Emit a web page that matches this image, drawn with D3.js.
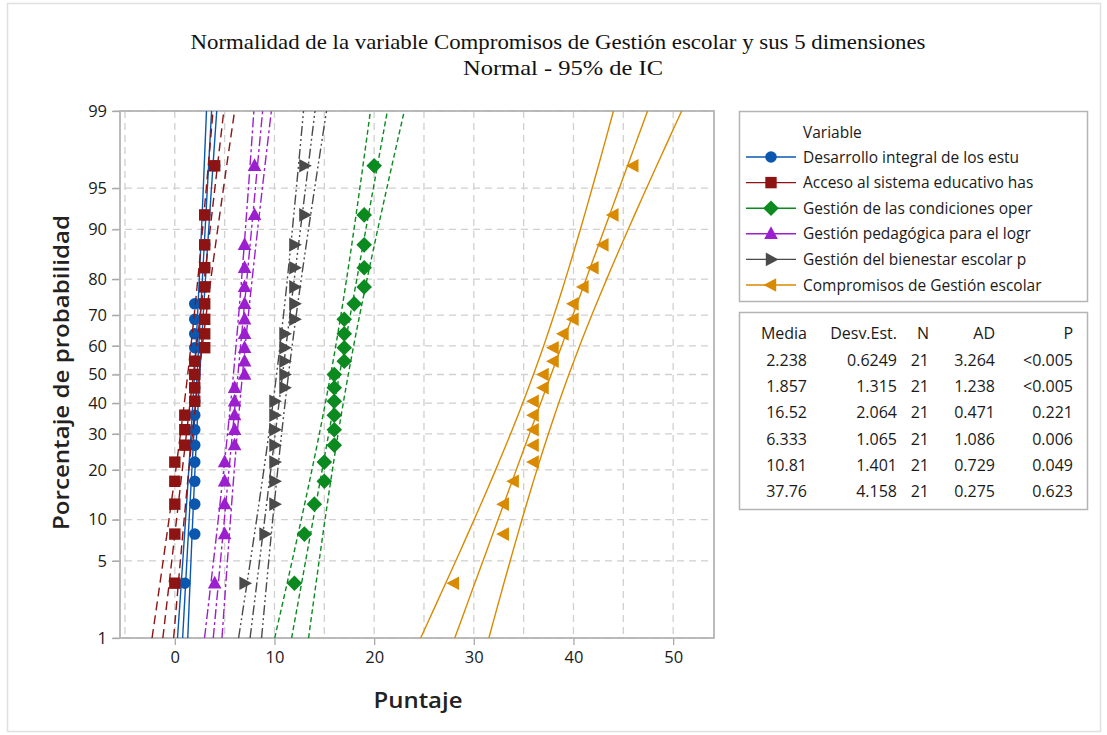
<!DOCTYPE html>
<html>
<head>
<meta charset="utf-8">
<script src="https://cdn.jsdelivr.net/npm/d3@7"></script>
<style>
  body { margin: 0; background: #fff; }
  svg { display: block; }
</style>
</head>
<body>
<svg id="chart" width="1107" height="735"></svg>
<script>
// ---------- DATA ----------
const seriesNames = [
  "Desarrollo integral de los estu",
  "Acceso al sistema educativo has",
  "Gestión de las condiciones oper",
  "Gestión pedagógica para el logr",
  "Gestión del bienestar escolar p",
  "Compromisos de Gestión escolar"
];
const desarrollo = [1,2,2,2,2,2,2,2,2,2,2,2,2,2,2,2,3,3,3,3,4];
const acceso     = [0,0,0,0,0,1,1,1,2,2,2,2,3,3,3,3,3,3,3,3,4];
const condiciones= [12,13,14,15,15,16,16,16,16,16,16,17,17,17,17,18,19,19,19,19,20];
const pedagogica = [4,5,5,5,5,6,6,6,6,6,7,7,7,7,7,7,7,7,7,8,8];
const bienestar  = [7,9,10,10,10,10,10,10,10,11,11,11,11,11,12,12,12,12,12,13,13];
const compromisos= [28,33,33,34,36,36,36,36,36,37,37,38,38,39,40,40,41,42,43,44,46];
const seriesValues = [desarrollo, acceso, condiciones, pedagogica, bienestar, compromisos];

const tableHeaders = ["Media", "Desv.Est.", "N", "AD", "P"];
const tableMedia = ["2.238", "1.857", "16.52", "6.333", "10.81", "37.76"];
const tableSD    = ["0.6249", "1.315", "2.064", "1.065", "1.401", "4.158"];
const tableN     = ["21", "21", "21", "21", "21", "21"];
const tableAD    = ["3.264", "1.238", "0.471", "1.086", "0.729", "0.275"];
const tableP     = ["<0.005", "<0.005", "0.221", "0.006", "0.049", "0.623"];

const probTicks = [1,5,10,20,30,40,50,60,70,80,90,95,99];
const xTicks = [0,10,20,30,40,50];
const xGrid = [-5,0,5,10,15,20,25,30,35,40,45,50];

// ---------- STYLE ----------
const colors = ["#0B57B0", "#8E1313", "#0A8A1F", "#9C1FCF", "#4A4A4A", "#D98A00"];
const dashes = [null, "9,5", "5,3", "10,3,3,3", "10,3,2,3,2,3", null];
const shapes = ["circle", "square", "diamond", "triUp", "triRight", "triLeft"];
const sans = "Open Sans, sans-serif";

// ---------- helpers ----------
function qnorm(p) {
  const a = [-3.969683028665376e+01, 2.209460984245205e+02, -2.759285104469687e+02, 1.383577518672690e+02, -3.066479806614716e+01, 2.506628277459239e+00];
  const b = [-5.447609879822406e+01, 1.615858368580409e+02, -1.556989798598866e+02, 6.680131188771972e+01, -1.328068155288572e+01];
  const c = [-7.784894002430293e-03, -3.223964580411365e-01, -2.400758277161838e+00, -2.549732539343734e+00, 4.374664141464968e+00, 2.938163982698783e+00];
  const d = [7.784695709041462e-03, 3.224671290700398e-01, 2.445134137142996e+00, 3.754408661907416e+00];
  const pl = 0.02425, ph = 1 - pl;
  let q, r;
  if (p < pl) { q = Math.sqrt(-2*Math.log(p)); return (((((c[0]*q+c[1])*q+c[2])*q+c[3])*q+c[4])*q+c[5])/((((d[0]*q+d[1])*q+d[2])*q+d[3])*q+1); }
  if (p > ph) { q = Math.sqrt(-2*Math.log(1-p)); return -(((((c[0]*q+c[1])*q+c[2])*q+c[3])*q+c[4])*q+c[5])/((((d[0]*q+d[1])*q+d[2])*q+d[3])*q+1); }
  q = p - 0.5; r = q*q;
  return (((((a[0]*r+a[1])*r+a[2])*r+a[3])*r+a[4])*r+a[5])*q/(((((b[0]*r+b[1])*r+b[2])*r+b[3])*r+b[4])*r+1);
}

function markerPath(shape) {
  switch (shape) {
    case "circle": return d3.symbol(d3.symbolCircle, 105)();
    case "square": return d3.symbol(d3.symbolSquare, 130)();
    case "diamond": return "M0,-7.8L7.8,0L0,7.8L-7.8,0Z";
    case "triUp": return "M0,-7.5L6.8,5.2L-6.8,5.2Z";
    case "triRight": return "M7.5,0L-5.2,-6.8L-5.2,6.8Z";
    case "triLeft": return "M-7.5,0L5.2,-6.8L5.2,6.8Z";
  }
}

// ---------- LAYOUT ----------
const svg = d3.select("#chart");
const L = 120, R = 714, T = 111, B = 638;
const x = d3.scaleLinear().domain([-5.5, 54.1]).range([L, R]);
const zMin = qnorm(0.01), zMax = qnorm(0.99);
const y = d3.scaleLinear().domain([zMin, zMax]).range([B, T]);

// page border
svg.append("rect").attr("x", 7.5).attr("y", 3.5).attr("width", 1093).attr("height", 728)
  .attr("fill", "#fff").attr("stroke", "#e0e0e0").attr("stroke-width", 1.5);

// titles
svg.append("text").attr("x", 558).attr("y", 49).attr("text-anchor", "middle")
  .attr("font-family", "Liberation Serif, serif").attr("font-size", 21).attr("fill", "#111")
  .attr("textLength", 735).attr("lengthAdjust", "spacingAndGlyphs")
  .text("Normalidad de la variable Compromisos de Gestión escolar y sus 5 dimensiones");
svg.append("text").attr("x", 563).attr("y", 75).attr("text-anchor", "middle")
  .attr("font-family", "Liberation Serif, serif").attr("font-size", 21).attr("fill", "#111")
  .attr("textLength", 200).attr("lengthAdjust", "spacingAndGlyphs")
  .text("Normal - 95% de IC");

// grid
const grid = svg.append("g");
grid.selectAll("line.hg").data(probTicks).join("line")
  .attr("x1", L - 7).attr("x2", R)
  .attr("y1", d => y(qnorm(d/100))).attr("y2", d => y(qnorm(d/100)))
  .attr("stroke", "#d0d0d0").attr("stroke-width", 1.3).attr("stroke-dasharray", "7,5");
grid.selectAll("line.vg").data(xGrid).join("line")
  .attr("x1", d => x(d)).attr("x2", d => x(d))
  .attr("y1", T).attr("y2", B)
  .attr("stroke", "#d0d0d0").attr("stroke-width", 1.3).attr("stroke-dasharray", "7,5");

// axes
const xAxis = d3.axisBottom(x).tickValues(xTicks).tickSize(7).tickPadding(6).tickFormat(d3.format("d"));
const gx = svg.append("g").attr("transform", `translate(0,${B})`).call(xAxis);
const yAxis = d3.axisLeft(y).tickValues(probTicks.map(p => qnorm(p/100))).tickSize(8).tickPadding(5)
  .tickFormat((d, i) => String(probTicks[i]));
const gy = svg.append("g").attr("transform", `translate(${L},0)`).call(yAxis);
[gx, gy].forEach(g => {
  g.select(".domain").remove();
  g.selectAll(".tick line").attr("stroke", "#a8a8a8").attr("stroke-width", 1.3);
  g.selectAll(".tick text").attr("font-family", sans).attr("font-size", 16.5).attr("fill", "#1a1a1a");
});

// frame
svg.append("rect").attr("x", L).attr("y", T).attr("width", R - L).attr("height", B - T)
  .attr("fill", "none").attr("stroke", "#b4b4b4").attr("stroke-width", 1.8);

// axis titles
svg.append("text").attr("x", (L + R) / 2 + 1).attr("y", 708).attr("text-anchor", "middle")
  .attr("font-family", sans).attr("font-size", 21).attr("font-weight", 600).attr("fill", "#222")
  .attr("textLength", 89).attr("lengthAdjust", "spacingAndGlyphs").text("Puntaje");
svg.append("text").attr("transform", `translate(69,${(T + B) / 2 - 2}) rotate(-90)`).attr("text-anchor", "middle")
  .attr("font-family", sans).attr("font-size", 21).attr("font-weight", 600).attr("fill", "#222")
  .attr("textLength", 315).attr("lengthAdjust", "spacingAndGlyphs").text("Porcentaje de probabilidad");

// clip
svg.append("clipPath").attr("id", "plotclip").append("rect")
  .attr("x", L).attr("y", T).attr("width", R - L).attr("height", B - T);

const plot = svg.append("g").attr("clip-path", "url(#plotclip)");
const zc = 1.959964;
const zs = d3.range(zMin, zMax + 0.001, (zMax - zMin) / 60);

seriesValues.forEach((vals, si) => {
  const n = vals.length;
  const mean = d3.mean(vals), sd = d3.deviation(vals);
  const sorted = vals.slice().sort((a, b) => a - b);
  const fit = z => mean + sd * z;
  const hw = z => zc * sd * Math.sqrt((1 + z * z / 2) / n);
  const line = d3.line().x(d => x(d[0])).y(d => y(d[1]));
  const bands = [
    zs.map(z => [fit(z) - hw(z), z]),
    zs.map(z => [fit(z), z]),
    zs.map(z => [fit(z) + hw(z), z])
  ];
  const g = plot.append("g");
  bands.forEach(b => {
    g.append("path").attr("d", line(b)).attr("fill", "none")
      .attr("stroke", colors[si]).attr("stroke-width", 1.4)
      .attr("stroke-dasharray", dashes[si]);
  });
  const pg = plot.append("g");
  pg.selectAll("path").data(sorted).join("path")
    .attr("d", markerPath(shapes[si]))
    .attr("transform", (v, i) => `translate(${x(v)},${y(qnorm((i + 1 - 0.3) / (n + 0.4)))})`)
    .attr("fill", colors[si]);
});

// legend
const lg = svg.append("g");
lg.append("rect").attr("x", 739.5).attr("y", 111.5).attr("width", 348).attr("height", 190)
  .attr("fill", "#fff").attr("stroke", "#b4b4b4").attr("stroke-width", 1.5);
lg.append("text").attr("x", 803).attr("y", 138).attr("font-family", sans)
  .attr("font-size", 15.5).attr("fill", "#1a1a1a").text("Variable");
const legendW = [223, 229, 213, 205, 203, 249];
seriesNames.forEach((name, i) => {
  const cy = 157 + i * 25.6;
  lg.append("line").attr("x1", 746).attr("x2", 796).attr("y1", cy).attr("y2", cy)
    .attr("stroke", colors[i]).attr("stroke-width", 1.4);
  lg.append("path").attr("d", markerPath(shapes[i])).attr("transform", `translate(771,${cy})`).attr("fill", colors[i]);
  lg.append("text").attr("x", 803).attr("y", cy + 5.5).attr("font-family", sans)
    .attr("font-size", 15.5).attr("fill", "#1a1a1a").text(name);
});

// stats table
const tg = svg.append("g");
tg.append("rect").attr("x", 739.5).attr("y", 312.5).attr("width", 348).attr("height", 197)
  .attr("fill", "#fff").attr("stroke", "#b4b4b4").attr("stroke-width", 1.5);
const colRight = [807, 897, 929, 995, 1073];
const cols = [tableMedia, tableSD, tableN, tableAD, tableP];
tableHeaders.forEach((h, j) => {
  tg.append("text").attr("x", colRight[j]).attr("y", 339).attr("text-anchor", "end")
    .attr("font-family", sans).attr("font-size", 16).attr("fill", "#1a1a1a").text(h);
});
tableMedia.forEach((_, r) => {
  cols.forEach((col, j) => {
    tg.append("text").attr("x", colRight[j]).attr("y", 366 + r * 26.2).attr("text-anchor", "end")
      .attr("font-family", sans).attr("font-size", 16).attr("fill", "#1a1a1a").text(col[r]);
  });
});
</script>
</body>
</html>
